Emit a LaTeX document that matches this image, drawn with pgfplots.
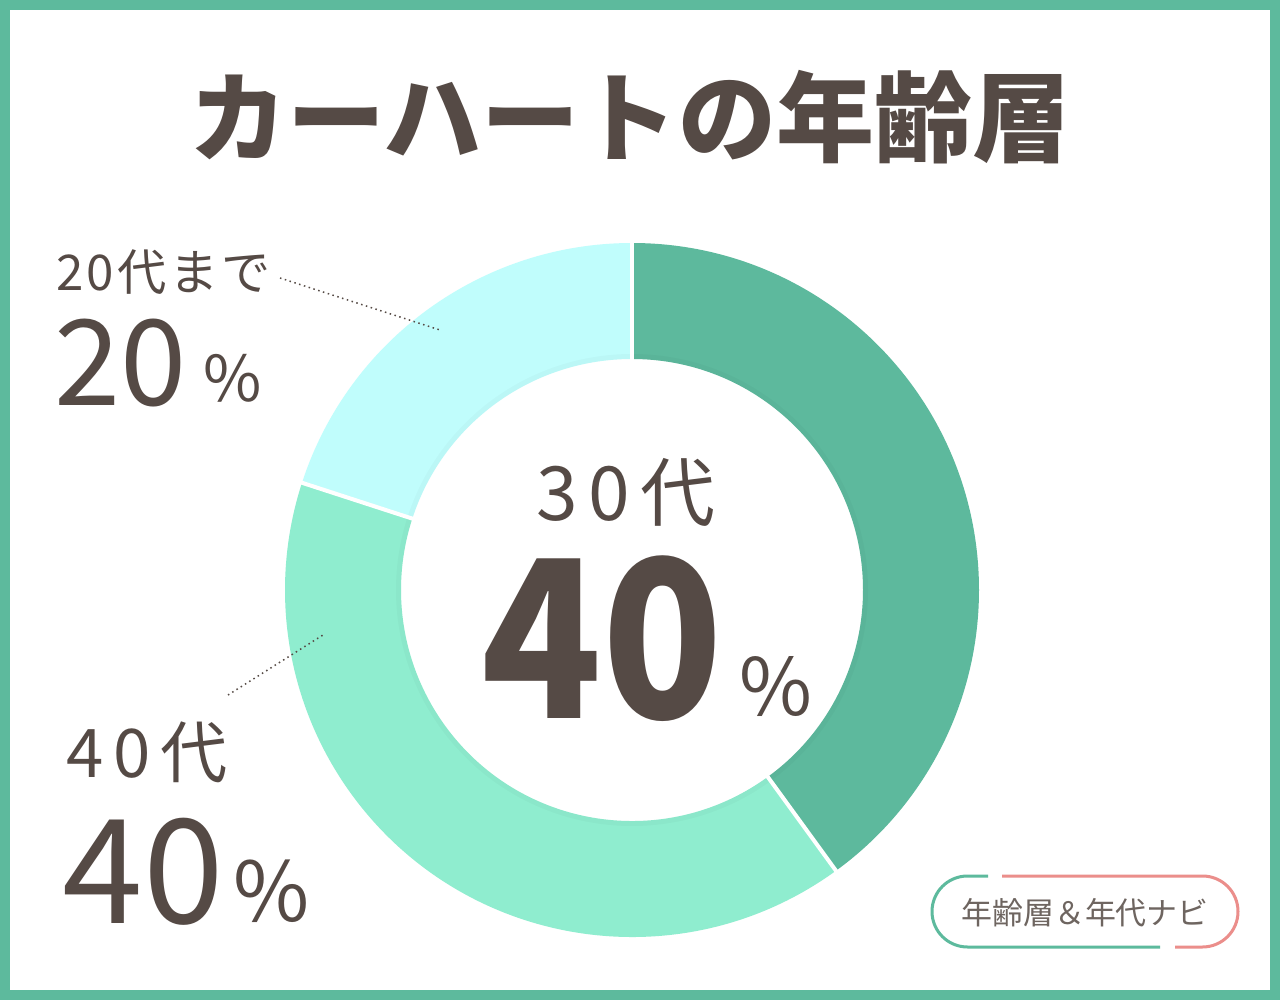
\documentclass[border=0pt]{standalone}
\usepackage{pgfplots}
\usepackage{pgfplotstable}
\pgfplotsset{compat=1.18}
\usepackage{fontspec}
\setmainfont{Noto Sans CJK JP}
\definecolor{frame}{RGB}{93,186,157}
\definecolor{cA}{RGB}{93,185,157}
\definecolor{cB}{RGB}{143,237,207}
\definecolor{cC}{RGB}{192,253,252}
\definecolor{txt}{RGB}{85,74,69}
\definecolor{badgetxt}{RGB}{110,101,96}
\definecolor{pinkc}{RGB}{235,142,139}

% share of each age group (30代, 40代, 20代まで), in per cent
\pgfplotstableread{
value
40
40
20
}\agedata

\begin{document}
\begin{tikzpicture}
\pgfplotstablegetelem{0}{value}\of\agedata \edef\vA{\pgfplotsretval}
\pgfplotstablegetelem{1}{value}\of\agedata \edef\vB{\pgfplotsretval}
\pgfplotstablegetelem{2}{value}\of\agedata \edef\vC{\pgfplotsretval}
\pgfmathsetmacro\aA{90}
\pgfmathsetmacro\aB{\aA-3.6*\vA}
\pgfmathsetmacro\aC{\aB-3.6*\vB}
\pgfmathsetmacro\aD{\aC-3.6*\vC}
\begin{axis}[x=0.1mm,y=0.1mm,xmin=0,xmax=1280,ymin=0,ymax=1000,
  hide axis,clip=false]
\addplot[draw=none] coordinates {(632,410)};
\fill[white] (axis cs:0,0) rectangle (axis cs:1280,1000);
\draw[frame,line width=1mm] (axis cs:5,5) rectangle (axis cs:1275,995);
% donut
\draw[cA,line width=11.6mm] (axis cs:632,410) ++(\aA:28.9mm) arc[start angle=\aA,end angle=\aB,radius=28.9mm];
\draw[cB,line width=11.6mm] (axis cs:632,410) ++(\aB:28.9mm) arc[start angle=\aB,end angle=\aC,radius=28.9mm];
\draw[cC,line width=11.6mm] (axis cs:632,410) ++(\aC:28.9mm) arc[start angle=\aC,end angle=\aD,radius=28.9mm];
\draw[black,opacity=0.025,line width=0.5mm] (axis cs:632,410) circle[radius=23.35mm];
\draw[white,line width=0.4mm] (axis cs:632,410) ++(\aA:22.8mm) -- ++(\aA:12.4mm);
\draw[white,line width=0.4mm] (axis cs:632,410) ++(\aB:22.8mm) -- ++(\aB:12.4mm);
\draw[white,line width=0.4mm] (axis cs:632,410) ++(\aC:22.8mm) -- ++(\aC:12.4mm);
% leader lines
\draw[txt,densely dotted,line width=0.15mm] (axis cs:280,722) -- (axis cs:440,670);
\draw[txt,densely dotted,line width=0.15mm] (axis cs:228,305) -- (axis cs:323,365);
% title
\node[txt,inner sep=0] at (axis cs:630,883) {\fontsize{27.9}{28}\selectfont\bfseries カーハートの年齢層};
% labels
\node[txt,inner sep=0,anchor=base west] at (axis cs:56,709) {\fontsize{14}{15}\selectfont\addfontfeature{LetterSpace=6}20代まで};
\node[txt,inner sep=0,anchor=base west] at (axis cs:54,595) {\fontsize{33.9}{34}\selectfont 20};
\node[txt,inner sep=0,anchor=base west] at (axis cs:203,598) {\fontsize{18}{20}\selectfont\%};
\node[txt,inner sep=0,anchor=base west] at (axis cs:66,223) {\fontsize{19.1}{20}\selectfont\addfontfeature{LetterSpace=14}40代};
\node[txt,inner sep=0,anchor=base west] at (axis cs:62,77) {\fontsize{41.3}{42}\selectfont 40};
\node[txt,inner sep=0,anchor=base west] at (axis cs:233,79) {\fontsize{23.5}{26}\selectfont\%};
\node[txt,inner sep=0,anchor=base,text depth=0pt] at (axis cs:626,480) {\fontsize{21.3}{22}\selectfont\addfontfeature{LetterSpace=14}30代\hspace{-0.9mm}};
\node[txt,inner sep=0,anchor=base,text height=46pt] at (axis cs:602,282) {\scalebox{0.9}[1]{\fontsize{62.6}{63}\selectfont\bfseries 40}};
\node[txt,inner sep=0,anchor=base west] at (axis cs:739,285) {\fontsize{22.5}{24}\selectfont\%};
% badge
\draw[frame,line width=0.3mm] (axis cs:988,124) -- (axis cs:967.5,124) arc[start angle=90,end angle=270,radius=3.55mm] -- (axis cs:1160,53);
\draw[pinkc,line width=0.3mm] (axis cs:1002,124) -- (axis cs:1202.5,124) arc[start angle=90,end angle=-90,radius=3.55mm] -- (axis cs:1175,53);
\node[badgetxt,inner sep=0] at (axis cs:1085,87) {\fontsize{8.8}{9}\selectfont 年齢層＆年代ナビ};
\end{axis}
\end{tikzpicture}
\end{document}
